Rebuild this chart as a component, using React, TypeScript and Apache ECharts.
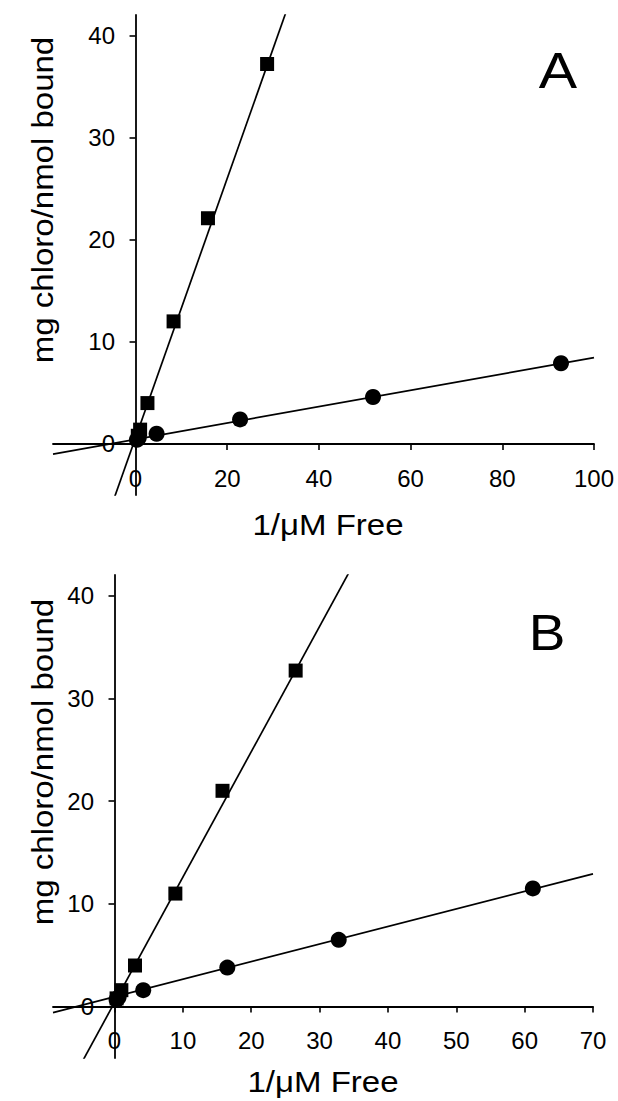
import React, { useEffect, useRef } from "react";
import * as echarts from "echarts";

// ---------- data ----------
const yTicks = [0, 10, 20, 30, 40];
const xTicksA = [0, 20, 40, 60, 80, 100];
const xTicksB = [0, 10, 20, 30, 40, 50, 60, 70];

// Panel A
const squareXA = [0.5, 1.0, 2.6, 8.3, 15.8, 28.7];
const squareYA = [0.8, 1.4, 4.0, 12.0, 22.1, 37.2];
const circleXA = [0.3, 0.7, 4.6, 22.8, 51.8, 92.8];
const circleYA = [0.4, 0.6, 1.0, 2.4, 4.6, 7.9];
const fitSquareA = [1.27, 0.6]; // slope, intercept
const fitCircleA = [0.08, 0.45];

// Panel B
const squareXB = [0.3, 1.0, 3.0, 8.9, 15.8, 26.5];
const squareYB = [0.8, 1.6, 4.0, 11.0, 21.0, 32.7];
const circleXB = [0.3, 0.6, 4.2, 16.5, 32.8, 61.2];
const circleYB = [0.7, 0.9, 1.6, 3.8, 6.5, 11.5];
const fitSquareB = [1.22, 0.4];
const fitCircleB = [0.171, 0.95];

const rangeXA = [-18, 100];
const rangeXB = [-9, 70];
const rangeY = [-5, 42];

const FONT = "'Liberation Sans', Arial, sans-serif";

const zip = (xs: number[], ys: number[]) => xs.map((x, i) => [x, ys[i]]);
const fitLine = (fit: number[], range: number[]) =>
  range.map((x) => [x, fit[0] * x + fit[1]]);

function xAxisCfg(grid: number, range: number[], ticks: number[], margin: number) {
  return {
    type: "value",
    gridIndex: grid,
    min: range[0],
    max: range[1],
    axisLine: { show: true, onZero: true, lineStyle: { color: "#000", width: 1.8 } },
    axisTick: { show: true, length: 6, customValues: ticks, lineStyle: { color: "#000", width: 1.6 } },
    axisLabel: { customValues: ticks, margin, color: "#000", fontSize: 24, fontFamily: FONT },
    splitLine: { show: false },
  };
}

function yAxisCfg(grid: number, margin: number) {
  return {
    type: "value",
    gridIndex: grid,
    min: rangeY[0],
    max: rangeY[1],
    axisLine: { show: true, onZero: true, lineStyle: { color: "#000", width: 1.8 } },
    axisTick: { show: true, length: 6, customValues: yTicks, lineStyle: { color: "#000", width: 1.6 } },
    axisLabel: { customValues: yTicks, margin, color: "#000", fontSize: 24, fontFamily: FONT },
    splitLine: { show: false },
  };
}

function lineSeries(idx: number, data: number[][]) {
  return {
    type: "line",
    xAxisIndex: idx,
    yAxisIndex: idx,
    data,
    showSymbol: false,
    symbol: "none",
    clip: true,
    lineStyle: { color: "#000", width: 1.7 },
    z: 2,
  };
}

function scatterSeries(idx: number, data: number[][], symbol: string, size: number) {
  return {
    type: "scatter",
    xAxisIndex: idx,
    yAxisIndex: idx,
    data,
    symbol,
    symbolSize: size,
    itemStyle: { color: "#000", opacity: 1 },
    z: 3,
  };
}

function titleText(x: number, y: number, text: string, size: number, rot: number, sx: number) {
  return {
    type: "text",
    x,
    y,
    rotation: rot,
    scaleX: sx,
    style: {
      text,
      fontSize: size,
      fontFamily: FONT,
      fill: "#000",
      align: "center",
      verticalAlign: "middle",
    },
  };
}

export default function App() {
  const ref = useRef<HTMLDivElement>(null);
  useEffect(() => {
    if (!ref.current) return;
    const chart = echarts.init(ref.current, null, { renderer: "svg" });
    chart.setOption({
      animation: false,
      backgroundColor: "#fff",
      grid: [
        { left: 53, top: 15, width: 541, height: 480 },
        { left: 53, top: 575, width: 540, height: 483 },
      ],
      xAxis: [xAxisCfg(0, rangeXA, xTicksA, -29), xAxisCfg(1, rangeXB, xTicksB, -30)],
      yAxis: [yAxisCfg(0, -62), yAxisCfg(1, -41)],
      series: [
        lineSeries(0, fitLine(fitSquareA, rangeXA)),
        lineSeries(0, fitLine(fitCircleA, rangeXA)),
        scatterSeries(0, zip(squareXA, squareYA), "rect", 14),
        scatterSeries(0, zip(circleXA, circleYA), "circle", 16),
        lineSeries(1, fitLine(fitSquareB, rangeXB)),
        lineSeries(1, fitLine(fitCircleB, rangeXB)),
        scatterSeries(1, zip(squareXB, squareYB), "rect", 14),
        scatterSeries(1, zip(circleXB, circleYB), "circle", 16),
      ],
      graphic: [
        titleText(43, 200, "mg chloro/nmol bound", 30, Math.PI / 2, 1.1),
        titleText(328, 525, "1/\u03bcM Free", 30, 0, 1.1),
        titleText(558, 70, "A", 50, 0, 1.15),
        titleText(43, 762, "mg chloro/nmol bound", 30, Math.PI / 2, 1.1),
        titleText(323, 1082, "1/\u03bcM Free", 30, 0, 1.1),
        titleText(547, 632, "B", 50, 0, 1.1),
      ],
    });
    return () => chart.dispose();
  }, []);
  return (
    <div
      ref={ref}
      style={{ position: "fixed", left: 0, top: 0, width: 618, height: 1101, background: "#fff" }}
    />
  );
}
